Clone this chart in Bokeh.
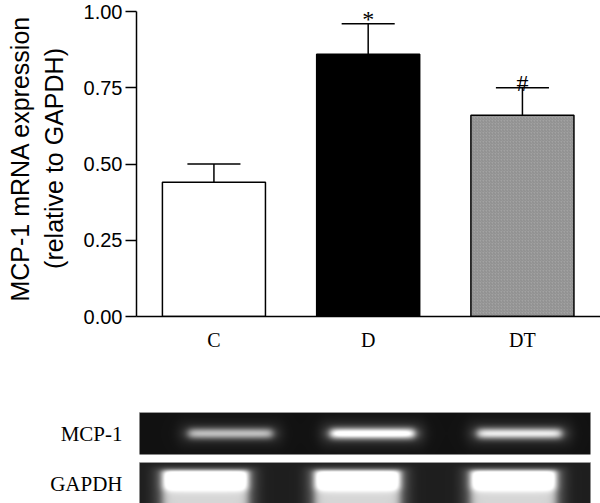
import numpy as np
from bokeh.plotting import figure
from bokeh.models import Range1d, FixedTicker, PrintfTickFormatter, ColumnDataSource
from bokeh.layouts import column
from bokeh.core.properties import value
from bokeh.embed import file_html
from bokeh.resources import INLINE

# ---------------- data ----------------
categories = ["C", "D", "DT"]
means = [0.44, 0.86, 0.66]
errors = [0.06, 0.10, 0.09]
marks = ["", "*", "#"]
y_ticks = [0.0, 0.25, 0.50, 0.75, 1.00]
gel_rows = ["MCP-1", "GAPDH"]
mcp1_band = [0.66, 1.0, 0.84]      # relative band brightness per lane
gapdh_band = [1.0, 1.0, 1.0]

# ---------------- styles ----------------
bar_fills = ["white", "black", "#a2a2a2"]
bar_hatch = [" ", " ", "right_diagonal_line"]
SANS = "Liberation Sans"
SERIF = "Liberation Serif"

W = 600
H1 = 380
H2 = 503 - H1
LEFT = 136
Y0 = 316          # pixel of the zero line
PX_PER_UNIT = 305
PX_PER_CAT = 154.25

xs = list(range(len(categories)))
err_top = [m + e for m, e in zip(means, errors)]
src = ColumnDataSource(dict(x=xs, top=means, err_top=err_top, fill=bar_fills,
                            hatch=bar_hatch, mark=marks))

x0 = -0.502
p = figure(width=W, height=H1, output_backend="svg", toolbar_location=None,
           x_range=Range1d(x0, x0 + (W - LEFT) / PX_PER_CAT),
           y_range=Range1d(0, Y0 / PX_PER_UNIT),
           min_border_left=LEFT, min_border_right=0, min_border_top=0,
           min_border_bottom=H1 - Y0)
p.outline_line_color = None
p.xgrid.visible = False
p.ygrid.visible = False

p.vbar(x="x", top="top", bottom=0, width=0.668, source=src,
       fill_color="fill", line_color="black", line_width=1.5,
       hatch_pattern="hatch", hatch_color="#6e6e6e", hatch_scale=3,
       hatch_weight=0.6, hatch_alpha=0.7)
p.segment(x0="x", y0="top", x1="x", y1="err_top", source=src,
          line_color="black", line_width=1.5)
cap_half = 0.172
src.data["cap_l"] = [x - cap_half for x in xs]
src.data["cap_r"] = [x + cap_half for x in xs]
p.segment(x0="cap_l", y0="err_top", x1="cap_r", y1="err_top", source=src,
          line_color="black", line_width=1.5)
p.text(x="x", y="err_top", text="mark", source=src, text_align="center",
       text_baseline="alphabetic", y_offset=-5, text_font=value(SERIF),
       text_font_size="24px", text_color="black")

# y axis
ya = p.yaxis[0]
ya.ticker = FixedTicker(ticks=y_ticks)
ya.formatter = PrintfTickFormatter(format="%.2f")
ya.bounds = (0, 1)
ya.major_tick_out = 11
ya.major_tick_in = 0
ya.minor_tick_out = 0
ya.minor_tick_in = 0
ya.axis_line_width = 1.5
ya.major_tick_line_width = 1.5
ya.major_label_standoff = 3
ya.major_label_text_font = SANS
ya.major_label_text_font_size = "20px"
ya.major_label_text_color = "black"
ya.axis_label = "MCP-1 mRNA expression\n(relative to GAPDH)"
ya.axis_label_text_font = SANS
ya.axis_label_text_font_size = "25px"
ya.axis_label_text_font_style = "normal"
ya.axis_label_text_color = "black"
ya.axis_label_standoff = 13

# x axis
xa = p.xaxis[0]
xa.ticker = FixedTicker(ticks=xs)
xa.major_label_overrides = {i: c for i, c in zip(xs, categories)}
xa.major_tick_out = 0
xa.major_tick_in = 0
xa.minor_tick_out = 0
xa.minor_tick_in = 0
xa.axis_line_width = 1.5
xa.major_label_standoff = 12
xa.major_label_text_font = SERIF
xa.major_label_text_font_size = "20px"
xa.major_label_text_color = "black"

# ---------------- gel panel ----------------
# x in window pixels (frame aligned with the chart frame), y in pixels from bottom
p2 = figure(width=W, height=H2, output_backend="svg", toolbar_location=None,
            x_range=Range1d(LEFT, W), y_range=Range1d(0, H2),
            min_border_left=LEFT, min_border_right=0, min_border_top=0,
            min_border_bottom=0)
p2.outline_line_color = None
p2.xaxis.visible = False
p2.grid.visible = False

gel_left, gel_w = 139, 451
row_top = [412 - H1, 462 - H1]       # from top of gel panel
row_h = [42, 47]
row_y = [H2 - t - h for t, h in zip(row_top, row_h)]
lane_c = {0: [91, 233, 380], 1: [66, 218, 374]}
lane_hw = [42, 43]


def sig(t):
    return 0.5 * (1 + np.tanh(t))


def gel_image(kind, strengths, h):
    xx = np.arange(gel_w)[None, :] + 0.5
    yy = np.arange(h)[:, None] + 0.5
    img = np.full((h, gel_w), 0.07 if kind == 0 else 0.12)
    for c, s in zip(lane_c[kind], strengths):
        hw = lane_hw[kind]
        horiz = sig((xx - (c - hw)) / 5.0) - sig((xx - (c + hw)) / 5.0)
        glow_h = sig((xx - (c - hw - 10)) / 7.0) - sig((xx - (c + hw + 10)) / 7.0)
        if kind == 0:
            vert = np.exp(-((yy - 21) / 5.5) ** 2)
            glow_v = np.exp(-((yy - 21) / 13.0) ** 2)
            img += s * (0.88 * horiz * vert + 0.15 * glow_h * glow_v)
        else:
            vert = sig((yy - 8) / 2.5) * (1.0 - 0.42 * sig((yy - 27) / 4.0))
            img += s * (1.0 * horiz * vert) + 0.14 * glow_h * sig((yy - 4) / 3.0)
    img = np.clip(img, 0, 1)[::-1]
    v = (img * 255).astype(np.uint8)
    rgba = np.empty((h, gel_w), dtype=np.uint32)
    view = rgba.view(dtype=np.uint8).reshape((h, gel_w, 4))
    view[..., 0] = v
    view[..., 1] = v
    view[..., 2] = v
    view[..., 3] = 255
    return rgba


for k, strengths in enumerate([mcp1_band, gapdh_band]):
    img = gel_image(k, strengths, row_h[k])
    p2.image_rgba(image=[img], x=gel_left, y=row_y[k], dw=gel_w, dh=row_h[k])
    p2.segment(x0=gel_left, y0=row_y[k] + row_h[k], x1=gel_left + gel_w,
               y1=row_y[k] + row_h[k], line_color="#9a9a9a", line_width=1)

# row names shown as the gel panel's left axis labels
label_y = [row_y[0] + 21, row_y[1] + row_h[1] - 21]
ga = p2.yaxis[0]
ga.ticker = FixedTicker(ticks=label_y)
ga.major_label_overrides = {ly: name for ly, name in zip(label_y, gel_rows)}
ga.axis_line_color = None
ga.major_tick_out = 0
ga.major_tick_in = 0
ga.minor_tick_out = 0
ga.minor_tick_in = 0
ga.major_label_standoff = 14
ga.major_label_text_font = SERIF
ga.major_label_text_font_size = "21px"
ga.major_label_text_color = "black"

layout = column(p, p2, spacing=0)
open("out.html", "w").write(file_html(layout, INLINE))
